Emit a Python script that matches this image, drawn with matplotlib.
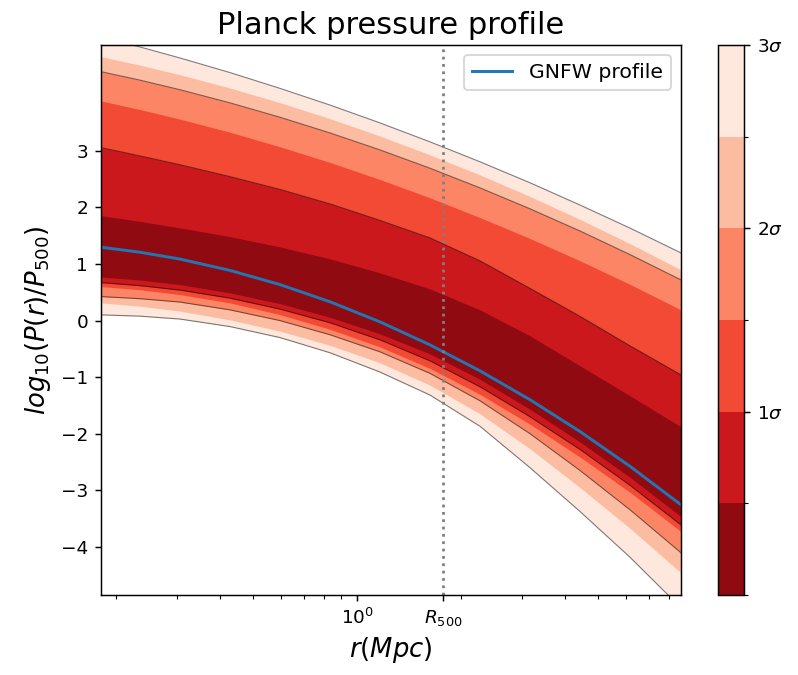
import matplotlib
matplotlib.use("Agg")
import matplotlib.pyplot as plt
import numpy as np
from matplotlib.colors import ListedColormap, BoundaryNorm
from matplotlib.cm import ScalarMappable

r = [0.1811, 0.235, 0.3069, 0.4283, 0.5979, 0.8351, 1.166, 1.627, 2.273, 3.173, 4.43, 6.185, 8.69]
R500 = 1.775

# GNFW profile, log10(P/P500)
profil = [1.297, 1.208, 1.087, 0.887, 0.636, 0.332, -0.023, -0.429, -0.889, -1.399, -1.961, -2.576, -3.256]

# upper edges of the sigma bands
gora_05 = [1.855, 1.753, 1.638, 1.484, 1.302, 1.090, 0.843, 0.560, 0.189, -0.270, -0.800, -1.330, -1.878]
gora_10 = [3.057, 2.910, 2.754, 2.544, 2.318, 2.062, 1.770, 1.461, 1.055, 0.569, 0.074, -0.447, -0.959]
gora_15 = [3.882, 3.730, 3.560, 3.329, 3.072, 2.795, 2.493, 2.170, 1.820, 1.451, 1.057, 0.640, 0.189]
gora_20 = [4.399, 4.249, 4.080, 3.848, 3.594, 3.316, 3.016, 2.693, 2.345, 1.975, 1.583, 1.166, 0.719]
gora_25 = [4.664, 4.514, 4.345, 4.110, 3.852, 3.569, 3.261, 2.929, 2.574, 2.193, 1.788, 1.359, 0.896]
gora_30 = [5.012, 4.835, 4.641, 4.383, 4.104, 3.809, 3.493, 3.159, 2.806, 2.435, 2.042, 1.634, 1.196]

# lower edges of the sigma bands
dol_05 = [0.770, 0.717, 0.636, 0.489, 0.300, 0.059, -0.235, -0.588, -1.039, -1.567, -2.147, -2.770, -3.463]
dol_10 = [0.671, 0.617, 0.539, 0.396, 0.203, -0.039, -0.341, -0.712, -1.171, -1.700, -2.279, -2.912, -3.613]
dol_15 = [0.601, 0.546, 0.459, 0.313, 0.106, -0.154, -0.465, -0.845, -1.304, -1.832, -2.412, -3.035, -3.728]
dol_20 = [0.424, 0.387, 0.327, 0.189, 0.000, -0.251, -0.553, -0.933, -1.419, -2.000, -2.650, -3.345, -4.104]
dol_25 = [0.313, 0.254, 0.168, 0.012, -0.186, -0.437, -0.747, -1.140, -1.648, -2.265, -2.951, -3.671, -4.458]
dol_30 = [0.101, 0.078, 0.027, -0.106, -0.300, -0.569, -0.910, -1.316, -1.869, -2.601, -3.375, -4.184, -5.076]

poziomy = [0, 0.5, 1, 1.5, 2, 2.5, 3]
gory = [gora_05, gora_10, gora_15, gora_20, gora_25, gora_30]
doly = [dol_05, dol_10, dol_15, dol_20, dol_25, dol_30]

cmap = plt.get_cmap('Reds_r')
kolory = cmap((np.arange(6) + 0.5) / 6)

fig = plt.figure(figsize=(798 / 133, 675 / 133), dpi=133)
ax = fig.add_axes([0.1266, 0.1185, 0.7268, 0.8148])
cax = fig.add_axes([0.8997, 0.1185, 0.0326, 0.8148])

# od najszerszego pasma do najwezszego
for i in range(5, -1, -1):
    ax.fill_between(r, doly[i], gory[i], color=kolory[i], lw=0)

# cienkie linie na 1, 2 i 3 sigma
for i in [1, 3, 5]:
    ax.plot(r, gory[i], color='k', lw=0.6, alpha=0.5)
    ax.plot(r, doly[i], color='k', lw=0.6, alpha=0.5)

ax.plot(r, profil, color='#1f77b4', lw=1.6, label='GNFW profile')
ax.axvline(R500, color='gray', ls=':', lw=1.5)

ax.set_xscale('log')
ax.set_xlim(r[0], r[-1])
ax.set_ylim(-4.85, 4.87)
ax.set_yticks([-4, -3, -2, -1, 0, 1, 2, 3])
ax.set_xticks([1, R500])
ax.set_xticklabels(['$10^0$', '$R_{500}$'])

ax.set_title('Planck pressure profile', fontsize=16.5)
ax.set_xlabel('$r(Mpc)$', fontsize=14)
ax.set_ylabel('$log_{10}(P(r)/P_{500})$', fontsize=14)
ax.legend(loc='upper right', fontsize=11)

sm = ScalarMappable(norm=BoundaryNorm(poziomy, 6), cmap=ListedColormap(kolory))
cb = fig.colorbar(sm, cax=cax, ticks=[1, 2, 3])
cb.set_ticklabels(['$1\\sigma$', '$2\\sigma$', '$3\\sigma$'])
cb.ax.tick_params(labelsize=10)

fig.savefig('out.png', dpi=133)
